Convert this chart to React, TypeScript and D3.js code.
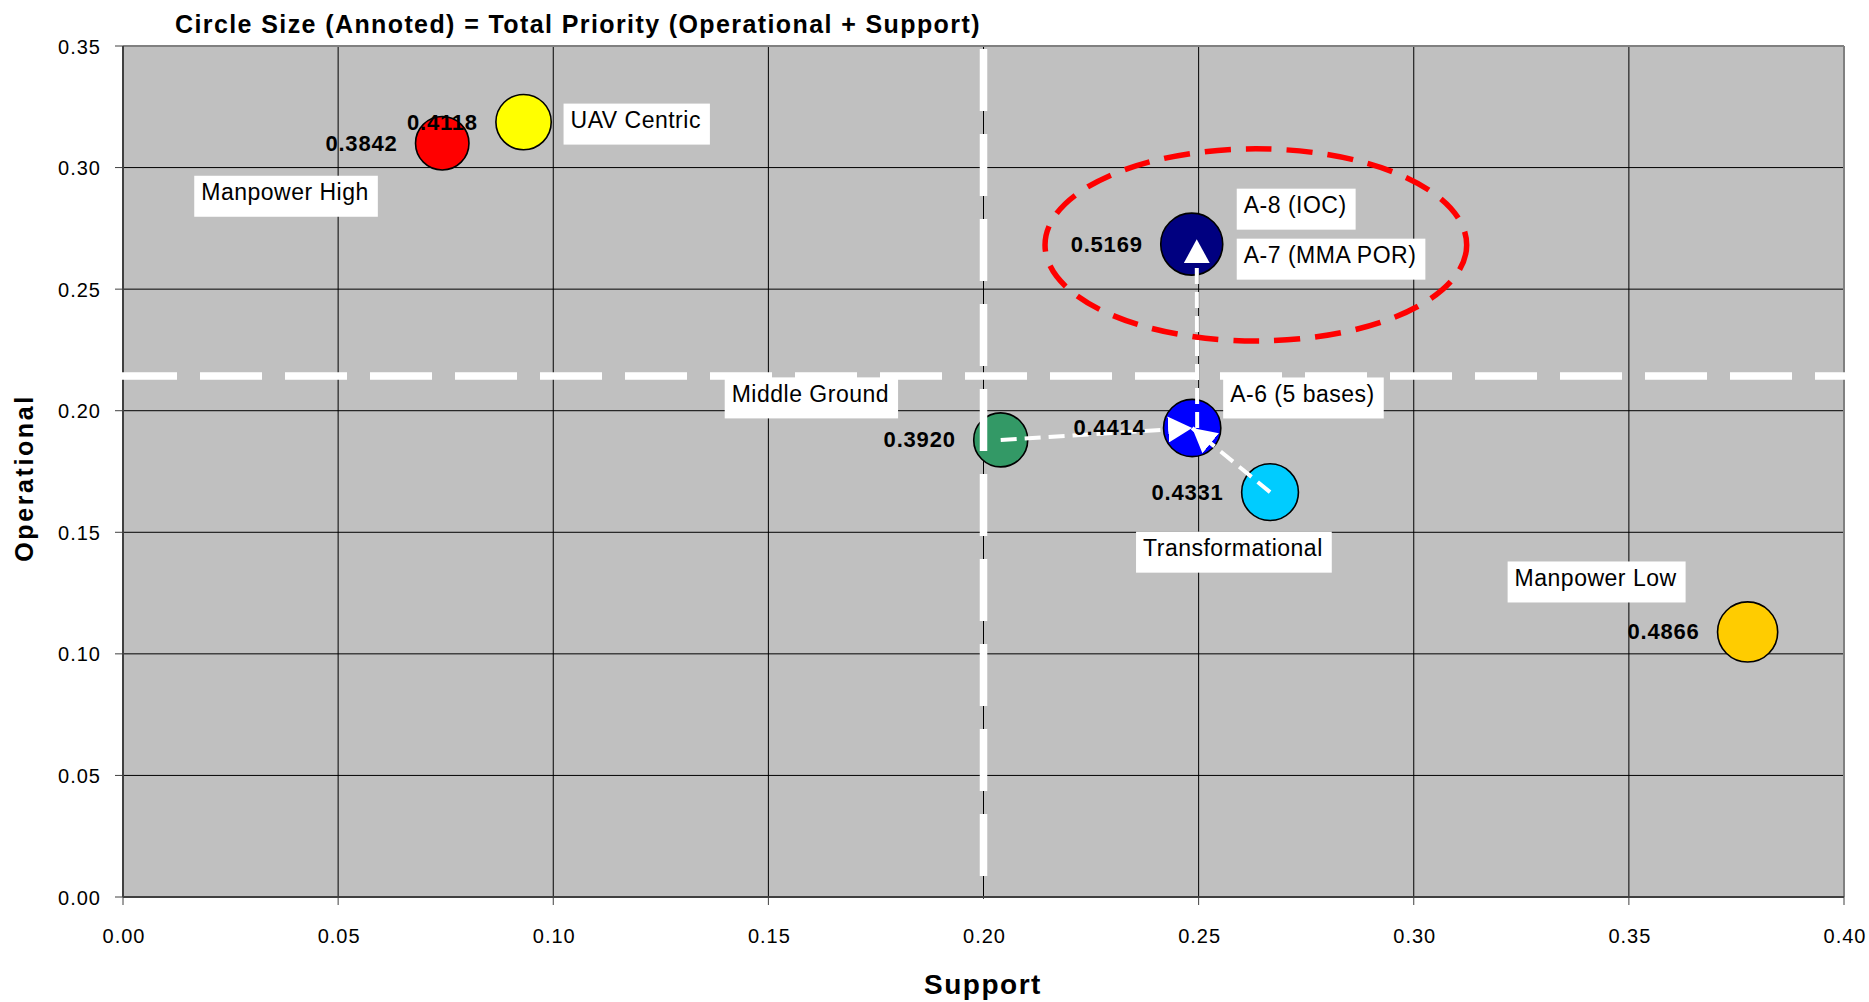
import React, { useEffect, useRef } from "react";
import * as d3 from "d3";

// ---------- data ----------
const scenarios = ["Manpower High", "UAV Centric", "A-8 / A-7", "Middle Ground", "A-6 (5 bases)", "Transformational", "Manpower Low"];
const support = [0.0742, 0.0931, 0.2484, 0.204, 0.2485, 0.2666, 0.3776];
const operational = [0.31, 0.3187, 0.2685, 0.188, 0.1929, 0.1665, 0.109];
const totalPriority = [0.3842, 0.4118, 0.5169, 0.392, 0.4414, 0.4331, 0.4866];
const bubbleColors = ["#ff0000", "#ffff00", "#000080", "#339966", "#0000ff", "#00ccff", "#ffcc00"];

const nameLabels = ["Manpower High", "UAV Centric", "A-8 (IOC)", "A-7 (MMA POR)", "Middle Ground", "A-6 (5 bases)", "Transformational", "Manpower Low"];
const nameLabelPoint = [0, 1, 2, 2, 3, 4, 5, 6];

const arrowFrom = [3, 5, 4];
const arrowTo = [4, 4, 2];

const xTicks = [0, 0.05, 0.1, 0.15, 0.2, 0.25, 0.3, 0.35, 0.4];
const yTicks = [0, 0.05, 0.1, 0.15, 0.2, 0.25, 0.3, 0.35];

const supportDivider = 0.2;
const operationalDivider = 0.2143;
const focusCenter = [0.2633, 0.2682];
const focusRadii = [0.049, 0.0395];

const title = "Circle Size (Annoted) = Total Priority (Operational + Support)";
const xTitle = "Support";
const yTitle = "Operational";

// ---------- layout ----------
const W = 1869;
const H = 1002;
const PL = 123, PR = 1844, PT = 46, PB = 897;
const nameLabelOffsets = [[-241, 57], [47, 6], [52, -31], [52, 19], [-269, -38], [38, -26], [-127, 64], [-233, -46]];
const FONT = "'Liberation Sans', Arial, sans-serif";

export default function App() {
  const ref = useRef<SVGSVGElement | null>(null);

  useEffect(() => {
    const svg = d3.select(ref.current);
    svg.selectAll("*").remove();

    const x = d3.scaleLinear().domain([0, 0.4]).range([PL, PR]);
    const y = d3.scaleLinear().domain([0, 0.35]).range([PB, PT]);
    const r = d3.scaleSqrt().domain([0, 0.5169]).range([0, 31]);

    const defs = svg.append("defs");
    defs.append("marker")
      .attr("id", "arrowHead")
      .attr("markerUnits", "userSpaceOnUse")
      .attr("markerWidth", 26)
      .attr("markerHeight", 26)
      .attr("viewBox", "0 0 26 26")
      .attr("refX", 24)
      .attr("refY", 13)
      .attr("orient", "auto")
      .append("path")
      .attr("d", "M0,0 L24,13 L0,26 Z")
      .attr("fill", "#ffffff");

    svg.append("rect").attr("width", W).attr("height", H).attr("fill", "#ffffff");

    // plot area
    svg.append("rect")
      .attr("x", PL).attr("y", PT).attr("width", PR - PL).attr("height", PB - PT)
      .attr("fill", "#c0c0c0");

    // gridlines
    const g = svg.append("g");
    g.selectAll("line.vg").data(xTicks.slice(1, -1)).join("line")
      .attr("x1", (d) => x(d)).attr("x2", (d) => x(d))
      .attr("y1", PT).attr("y2", PB)
      .attr("stroke", "#000").attr("stroke-width", 1);
    g.selectAll("line.hg").data(yTicks.slice(1, -1)).join("line")
      .attr("x1", PL).attr("x2", PR)
      .attr("y1", (d) => y(d)).attr("y2", (d) => y(d))
      .attr("stroke", "#000").attr("stroke-width", 1);

    // border
    svg.append("line").attr("x1", PL).attr("x2", PR).attr("y1", PT).attr("y2", PT).attr("stroke", "#808080").attr("stroke-width", 2);
    svg.append("line").attr("x1", PR).attr("x2", PR).attr("y1", PT).attr("y2", PB).attr("stroke", "#808080").attr("stroke-width", 2);

    // axes
    svg.append("line").attr("x1", PL).attr("x2", PL).attr("y1", PT).attr("y2", PB).attr("stroke", "#404040").attr("stroke-width", 2);
    svg.append("line").attr("x1", PL).attr("x2", PR).attr("y1", PB).attr("y2", PB).attr("stroke", "#404040").attr("stroke-width", 2);

    svg.selectAll("line.yt").data(yTicks).join("line")
      .attr("x1", PL - 8).attr("x2", PL).attr("y1", (d) => y(d)).attr("y2", (d) => y(d))
      .attr("stroke", "#404040").attr("stroke-width", 1);
    svg.selectAll("line.xt").data(xTicks).join("line")
      .attr("x1", (d) => x(d)).attr("x2", (d) => x(d)).attr("y1", PB).attr("y2", PB + 8)
      .attr("stroke", "#404040").attr("stroke-width", 1);

    const fmt = d3.format(".2f");
    svg.selectAll("text.yl").data(yTicks).join("text")
      .attr("x", 101).attr("y", (d) => y(d) + 7.5)
      .attr("text-anchor", "end")
      .style("font-family", FONT).style("font-size", "20px").style("letter-spacing", "1px")
      .attr("fill", "#000")
      .text((d) => fmt(d));
    svg.selectAll("text.xl").data(xTicks).join("text")
      .attr("x", (d) => x(d) + 1).attr("y", 943)
      .attr("text-anchor", "middle")
      .style("font-family", FONT).style("font-size", "20px").style("letter-spacing", "1px")
      .attr("fill", "#000")
      .text((d) => fmt(d));

    // focus ellipse
    svg.append("ellipse")
      .attr("cx", x(focusCenter[0])).attr("cy", y(focusCenter[1]))
      .attr("rx", x(focusCenter[0] + focusRadii[0]) - x(focusCenter[0]))
      .attr("ry", y(focusCenter[1]) - y(focusCenter[1] + focusRadii[1]))
      .attr("fill", "none").attr("stroke", "#ff0000").attr("stroke-width", 5.5)
      .attr("stroke-dasharray", "26 15");

    // bubbles
    const idx = d3.range(scenarios.length);
    svg.selectAll("circle.b").data(idx).join("circle")
      .attr("cx", (i) => x(support[i])).attr("cy", (i) => y(operational[i]))
      .attr("r", (i) => r(totalPriority[i]))
      .attr("fill", (i) => bubbleColors[i])
      .attr("stroke", "#000").attr("stroke-width", 1.6);

    // quadrant dividers
    svg.append("line")
      .attr("x1", x(supportDivider)).attr("x2", x(supportDivider))
      .attr("y1", PT + 3).attr("y2", PB + 10)
      .attr("stroke", "#ffffff").attr("stroke-width", 7.5)
      .attr("stroke-dasharray", "62 23");
    svg.append("line")
      .attr("x1", PL - 8).attr("x2", PR + 2)
      .attr("y1", y(operationalDivider)).attr("y2", y(operationalDivider))
      .attr("stroke", "#ffffff").attr("stroke-width", 7.5)
      .attr("stroke-dasharray", "62 23");

    // arrows
    svg.selectAll("line.arr").data(d3.range(arrowFrom.length)).join("line")
      .attr("x1", (k) => x(support[arrowFrom[k]]) + (arrowFrom[k] === 4 ? 5 : 0))
      .attr("y1", (k) => y(operational[arrowFrom[k]]))
      .attr("x2", (k) => x(support[arrowTo[k]]) + (arrowFrom[k] === 4 ? 5 : 0))
      .attr("y2", (k) => y(operational[arrowTo[k]]) - (arrowFrom[k] === 4 ? 5 : 0))
      .attr("stroke", "#ffffff").attr("stroke-width", 4)
      .attr("stroke-dasharray", "16 8")
      .attr("marker-end", "url(#arrowHead)");

    // value labels
    svg.selectAll("text.v").data(idx).join("text")
      .attr("x", (i) => x(support[i]) - r(totalPriority[i]) - 18)
      .attr("y", (i) => y(operational[i]) + 7.5)
      .attr("text-anchor", "end")
      .style("font-family", FONT).style("font-size", "22px").style("font-weight", "bold")
      .style("letter-spacing", "0.8px")
      .attr("fill", "#000")
      .text((i) => d3.format(".4f")(totalPriority[i]));

    // name labels in white boxes
    nameLabels.forEach((txt, k) => {
      const p = nameLabelPoint[k];
      const tx = x(support[p]) + nameLabelOffsets[k][0];
      const ty = y(operational[p]) + nameLabelOffsets[k][1];
      const grp = svg.append("g");
      const rect = grp.append("rect").attr("fill", "#ffffff");
      const t = grp.append("text")
        .attr("x", tx).attr("y", ty)
        .style("font-family", FONT).style("font-size", "23px").style("letter-spacing", "0.5px")
        .attr("fill", "#000")
        .text(txt);
      const w = (t.node() as SVGTextElement).getComputedTextLength();
      rect.attr("x", tx - 7).attr("y", ty - 24.5).attr("width", w + 16).attr("height", 41);
    });

    // titles
    svg.append("text")
      .attr("x", 175).attr("y", 33)
      .style("font-family", FONT).style("font-size", "25px").style("font-weight", "bold")
      .style("letter-spacing", "1.4px")
      .attr("fill", "#000").text(title);
    svg.append("text")
      .attr("x", 983).attr("y", 994).attr("text-anchor", "middle")
      .style("font-family", FONT).style("font-size", "28px").style("font-weight", "bold")
      .style("letter-spacing", "1.5px")
      .attr("fill", "#000").text(xTitle);
    svg.append("text")
      .attr("transform", "translate(33,478) rotate(-90)")
      .attr("text-anchor", "middle")
      .style("font-family", FONT).style("font-size", "25px").style("font-weight", "bold")
      .style("letter-spacing", "2.6px")
      .attr("fill", "#000").text(yTitle);
  }, []);

  return (
    <svg
      ref={ref}
      width={W}
      height={H}
      style={{ position: "absolute", left: 0, top: 0, display: "block" }}
    />
  );
}
